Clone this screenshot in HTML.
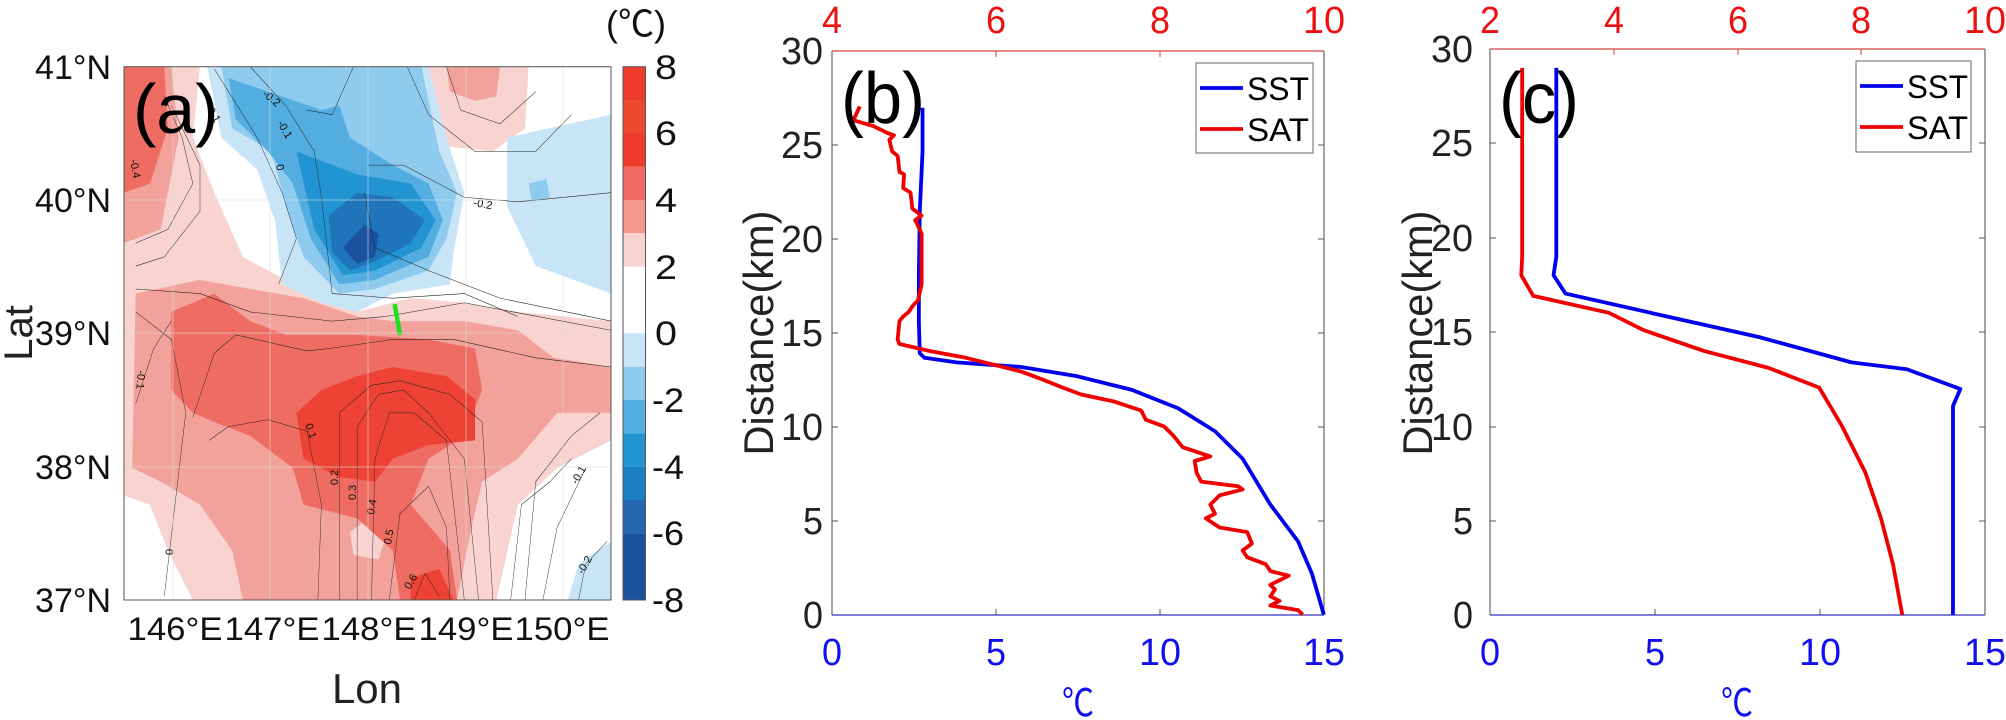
<!DOCTYPE html>
<html><head><meta charset="utf-8"><style>
html,body{margin:0;padding:0;background:#fff;}
svg{display:block;font-family:"Liberation Sans",Arial,sans-serif;}
</style></head><body>
<svg width="2006" height="720" viewBox="0 0 2006 720" xmlns="http://www.w3.org/2000/svg">
<defs><clipPath id="mc"><rect x="124" y="66.7" width="487" height="533.3"/></clipPath></defs>
<!-- ===== Panel a map ===== -->
<g clip-path="url(#mc)">
<rect x="124" y="66.7" width="487" height="533.3" fill="#fff"/>
<g transform="scale(0.35714,0.45872)">
<polygon fill="#f8d3cf" points="346,145 560,145 540,300 600,420 680,560 800,610 1000,680 1150,650 1300,660 1450,680 1711,700 1711,960 1560,1020 1450,1100 1390,1308 540,1308 470,1200 420,1100 346,1080"/>
<polygon fill="#f8d3cf" points="1180,145 1480,145 1470,280 1380,330 1260,320 1190,250"/>
<polygon fill="#f3a19b" points="1250,145 1400,145 1390,210 1330,220 1260,200"/>
<polygon fill="#f3a19b" points="346,145 480,145 500,300 450,500 346,530"/>
<polygon fill="#f3a19b" points="380,640 560,610 700,630 850,650 1000,690 1100,700 1300,700 1450,720 1550,780 1711,800 1711,900 1560,900 1450,1000 1350,1050 1320,1150 1280,1308 680,1308 650,1200 560,1100 450,1050 370,1020"/>
<polygon fill="#f8d3cf" points="980,1160 1030,1130 1080,1170 1060,1220 990,1210"/>
<polygon fill="#ef6c63" points="346,145 460,145 470,280 420,400 346,420"/>
<polygon fill="#ef6c63" points="480,680 600,640 700,700 800,730 1000,730 1200,740 1330,760 1350,850 1300,950 1200,1000 1150,1100 1260,1200 1280,1308 1120,1308 1100,1200 1000,1130 850,1100 820,1020 700,950 600,920 540,900 480,850"/>
<polygon fill="#ee4334" points="830,900 900,850 1000,820 1100,800 1250,820 1330,870 1330,960 1200,970 1100,1000 1050,1050 950,1040 850,1000"/>
<polygon fill="#ee4334" points="1150,1260 1230,1240 1270,1308 1150,1308"/>
<polygon fill="#c8e5f8" points="580,145 1200,145 1250,300 1300,420 1270,550 1260,620 1100,640 1000,680 900,660 790,620 770,480 720,370 620,300"/>
<polygon fill="#c8e5f8" points="1420,300 1711,250 1711,640 1500,580 1420,450"/>
<polygon fill="#c8e5f8" points="1620,1230 1711,1180 1711,1308 1590,1308"/>
<polygon fill="#8fcbee" points="620,145 1180,145 1230,330 1280,420 1250,520 1200,590 1050,630 950,640 850,560 800,450 760,330 650,280"/>
<polygon fill="#8fcbee" points="1480,400 1530,390 1540,430 1490,440"/>
<polygon fill="#53ade1" points="640,170 900,240 950,230 980,300 1100,360 1200,400 1240,480 1200,560 1050,610 950,620 870,520 820,400 750,330 660,260"/>
<polygon fill="#2294d2" points="830,330 1000,380 1150,400 1220,480 1180,540 1050,590 960,600 880,500"/>
<polygon fill="#1f74ba" points="920,470 1000,420 1100,430 1190,480 1150,530 1050,570 980,590 930,550"/>
<polygon fill="#1a52a0" points="960,540 1020,490 1060,510 1050,560 1000,575"/>
<g fill="none" stroke="#222" stroke-width="1.2" vector-effect="non-scaling-stroke">
<polyline points="380,630 560,640 700,680 930,700 1080,690 1300,660 1711,720"/>
<polyline points="380,680 480,740 520,900 460,1300"/>
<polyline points="380,880 430,760 480,700"/>
<polyline points="540,910 600,770 660,730 860,765 920,760 1100,740 1270,740 1500,780 1711,800"/>
<polyline points="585,960 640,930 750,915 860,940 900,1100 890,1308"/>
<polyline points="950,1308 950,900 1040,840 1120,830 1260,860 1350,920 1380,1308"/>
<polyline points="1000,1308 1000,930 1060,860 1130,850 1200,900 1300,1000 1340,1308"/>
<polyline points="1040,1308 1050,1000 1090,900 1160,900 1250,960 1300,1308"/>
<polyline points="1090,1308 1120,1120 1200,1060 1250,1150 1260,1308"/>
<polyline points="1160,1308 1190,1250 1230,1300"/>
<polyline points="780,620 830,520 790,420 720,300 600,150"/>
<polyline points="700,145 800,230 880,330 900,430 930,640 1100,650 1300,640 1450,690"/>
<polyline points="860,240 930,250 990,145"/>
<polyline points="1020,420 1050,540 1200,590 1400,650 1711,700"/>
<polyline points="1030,360 1130,360 1300,430 1450,440 1711,420"/>
<polyline points="1140,145 1200,250 1330,330 1500,330 1600,250"/>
<polyline points="1250,145 1290,240 1400,270 1500,200"/>
<polyline points="380,530 470,500 540,400 510,300 460,210"/>
<polyline points="380,580 460,560 560,460 560,360 480,230"/>
<polyline points="1430,1308 1460,1100 1540,1050 1600,1000"/>
<polyline points="1470,1308 1500,1050 1600,950 1680,900"/>
<polyline points="1520,1308 1560,1150 1640,1020"/>
<polyline points="1620,1308 1640,1230 1700,1180"/>
</g>
<line x1="1105" y1="663" x2="1120" y2="730" stroke="#1ee01e" stroke-width="4.5" vector-effect="non-scaling-stroke"/>
</g>
</g>
<g font-size="11" fill="#111">
<text x="207" y="110" transform="rotate(60 207 110)">0.1</text>
<text x="262" y="95" transform="rotate(40 262 95)">-0.2</text>
<text x="277" y="123" transform="rotate(60 277 123)">-0.1</text>
<text x="276" y="165" transform="rotate(80 276 165)">0</text>
<text x="473" y="206" transform="rotate(10 473 206)">-0.2</text>
<text x="130" y="160" transform="rotate(80 130 160)">-0.4</text>
<text x="138" y="370" transform="rotate(95 138 370)">-0.1</text>
<text x="305" y="425" transform="rotate(70 305 425)">0.1</text>
<text x="338" y="485" transform="rotate(-90 338 485)">0.2</text>
<text x="356" y="500" transform="rotate(-90 356 500)">0.3</text>
<text x="374" y="515" transform="rotate(-80 374 515)">0.4</text>
<text x="391" y="545" transform="rotate(-80 391 545)">0.5</text>
<text x="410" y="590" transform="rotate(-60 410 590)">0.6</text>
<text x="173" y="555" transform="rotate(-90 173 555)">0</text>
<text x="577" y="485" transform="rotate(-60 577 485)">-0.1</text>
<text x="583" y="575" transform="rotate(-60 583 575)">-0.2</text>
</g>
<g stroke="#ddd" stroke-width="1" opacity="0.6">
<line x1="173" y1="67" x2="173" y2="600"/><line x1="270" y1="67" x2="270" y2="600"/><line x1="368" y1="67" x2="368" y2="600"/><line x1="466" y1="67" x2="466" y2="600"/><line x1="563" y1="67" x2="563" y2="600"/>
<line x1="124" y1="200" x2="611" y2="200"/><line x1="124" y1="333" x2="611" y2="333"/><line x1="124" y1="467" x2="611" y2="467"/>
</g>
<rect x="124" y="66.7" width="487" height="533.3" fill="none" stroke="#555" stroke-width="1"/>
<text x="133" y="133" font-size="70">(a)</text>
<g font-size="34" text-anchor="end" fill="#111">
<text x="111" y="79">41°N</text><text x="111" y="212">40°N</text><text x="111" y="345">39°N</text><text x="111" y="479">38°N</text><text x="111" y="612">37°N</text>
</g>
<g font-size="32" text-anchor="middle" fill="#111">
<text x="175" y="640" textLength="95" lengthAdjust="spacingAndGlyphs">146°E</text>
<text x="272" y="640" textLength="95" lengthAdjust="spacingAndGlyphs">147°E</text>
<text x="369" y="640" textLength="95" lengthAdjust="spacingAndGlyphs">148°E</text>
<text x="466" y="640" textLength="95" lengthAdjust="spacingAndGlyphs">149°E</text>
<text x="562" y="640" textLength="95" lengthAdjust="spacingAndGlyphs">150°E</text>
</g>
<text x="367" y="703" font-size="42" text-anchor="middle" fill="#222">Lon</text>
<text transform="translate(32,333) rotate(-90)" font-size="40" text-anchor="middle" fill="#222">Lat</text>
<!-- colorbar -->
<g>
<rect x="623" y="66.7" width="22.5" height="66.7" fill="#ee3b2c"/>
<rect x="623" y="100" width="22.5" height="33.3" fill="#ec4a2d"/>
<rect x="623" y="133.3" width="22.5" height="33.4" fill="#ee3b2c"/>
<rect x="623" y="166.7" width="22.5" height="33.3" fill="#ef6a60"/>
<rect x="623" y="200" width="22.5" height="33.3" fill="#f3978f"/>
<rect x="623" y="233.3" width="22.5" height="33.4" fill="#f8d3cf"/>
<rect x="623" y="266.7" width="22.5" height="66.6" fill="#ffffff"/>
<rect x="623" y="333.3" width="22.5" height="33.4" fill="#c8e5f8"/>
<rect x="623" y="366.7" width="22.5" height="33.3" fill="#8fcbee"/>
<rect x="623" y="400" width="22.5" height="33.3" fill="#53ade1"/>
<rect x="623" y="433.3" width="22.5" height="33.4" fill="#2294d2"/>
<rect x="623" y="466.7" width="22.5" height="33.3" fill="#1a7fc3"/>
<rect x="623" y="500" width="22.5" height="33.3" fill="#2367b0"/>
<rect x="623" y="533.3" width="22.5" height="66.7" fill="#1a52a0"/>
<rect x="623" y="66.7" width="22.5" height="533.3" fill="none" stroke="#555" stroke-width="1"/>
</g>
<g font-size="34" fill="#111">
<text x="655" y="79" textLength="22" lengthAdjust="spacingAndGlyphs">8</text>
<text x="655" y="145" textLength="22" lengthAdjust="spacingAndGlyphs">6</text>
<text x="655" y="212" textLength="22" lengthAdjust="spacingAndGlyphs">4</text>
<text x="655" y="279" textLength="22" lengthAdjust="spacingAndGlyphs">2</text>
<text x="655" y="345" textLength="22" lengthAdjust="spacingAndGlyphs">0</text>
<text x="652" y="412" textLength="32" lengthAdjust="spacingAndGlyphs">-2</text>
<text x="652" y="479" textLength="32" lengthAdjust="spacingAndGlyphs">-4</text>
<text x="652" y="545" textLength="32" lengthAdjust="spacingAndGlyphs">-6</text>
<text x="652" y="612" textLength="32" lengthAdjust="spacingAndGlyphs">-8</text>
</g>
<text x="606" y="36" font-size="36" fill="#111" textLength="60" lengthAdjust="spacingAndGlyphs" font-family="'Liberation Sans','Noto Sans CJK SC',sans-serif">(℃)</text>

<!-- ===== Panel b ===== -->
<g>
<line x1="832" y1="51" x2="1324" y2="51" stroke="#d04040" stroke-width="1.2"/>
<line x1="832" y1="615" x2="1324" y2="615" stroke="#3030c0" stroke-width="1.2"/>
<line x1="832" y1="51" x2="832" y2="615" stroke="#666" stroke-width="1.2"/>
<line x1="1324" y1="51" x2="1324" y2="615" stroke="#666" stroke-width="1.2"/>
<g stroke="#555" stroke-width="1">
<line x1="832" y1="521" x2="838" y2="521"/><line x1="832" y1="427" x2="838" y2="427"/><line x1="832" y1="333" x2="838" y2="333"/><line x1="832" y1="239" x2="838" y2="239"/><line x1="832" y1="145" x2="838" y2="145"/>
<line x1="1318" y1="521" x2="1324" y2="521"/><line x1="1318" y1="427" x2="1324" y2="427"/><line x1="1318" y1="333" x2="1324" y2="333"/><line x1="1318" y1="239" x2="1324" y2="239"/><line x1="1318" y1="145" x2="1324" y2="145"/>
<line x1="996" y1="615" x2="996" y2="609"/><line x1="1160" y1="615" x2="1160" y2="609"/>
<line x1="996" y1="51" x2="996" y2="57" stroke="#c04040"/><line x1="1160" y1="51" x2="1160" y2="57" stroke="#c04040"/>
</g>
<g transform="translate(560,0) scale(0.9225,0.4587)" fill="none" stroke-linejoin="round">
<polyline stroke="#0000ee" stroke-width="3.8" vector-effect="non-scaling-stroke" points="393,235 393,330 390,460 389,600 389,700 390,770 395,780 430,790 500,800 560,820 620,850 670,890 710,940 740,1000 770,1100 800,1180 815,1250 828,1340"/>
<polyline stroke="#ee0000" stroke-width="3.8" vector-effect="non-scaling-stroke" points="325,232 318,262 340,275 355,290 362,295 357,305 360,330 366,340 368,375 373,380 372,410 380,420 382,455 392,470 385,480 390,500 392,510 392,620 388,655 383,665 378,680 372,690 368,700 366,740 368,750 400,765 440,780 470,795 500,810 520,825 545,845 565,860 600,875 630,895 635,915 655,930 665,950 675,975 690,985 705,995 688,1005 690,1030 695,1050 735,1060 740,1067 715,1080 705,1100 710,1120 700,1130 715,1150 745,1160 750,1185 740,1200 745,1215 765,1230 770,1245 790,1255 770,1275 775,1285 770,1300 780,1310 770,1320 800,1330 805,1340"/>
</g>
<text x="841" y="123" font-size="72" textLength="84" lengthAdjust="spacingAndGlyphs">(b)</text>
<rect x="1196" y="63" width="117" height="90" fill="#fff" stroke="#666" stroke-width="1"/>
<line x1="1200" y1="88" x2="1243" y2="88" stroke="#0000ee" stroke-width="3.8"/>
<line x1="1200" y1="129" x2="1243" y2="129" stroke="#ee0000" stroke-width="3.8"/>
<text x="1247" y="100" font-size="32" textLength="62" lengthAdjust="spacingAndGlyphs">SST</text>
<text x="1247" y="141" font-size="32" textLength="62" lengthAdjust="spacingAndGlyphs">SAT</text>
<g font-size="38" text-anchor="end" fill="#222">
<text x="823" y="628" textLength="20" lengthAdjust="spacingAndGlyphs">0</text>
<text x="823" y="534" textLength="20" lengthAdjust="spacingAndGlyphs">5</text>
<text x="823" y="440" textLength="42" lengthAdjust="spacingAndGlyphs">10</text>
<text x="823" y="346" textLength="42" lengthAdjust="spacingAndGlyphs">15</text>
<text x="823" y="252" textLength="42" lengthAdjust="spacingAndGlyphs">20</text>
<text x="823" y="158" textLength="42" lengthAdjust="spacingAndGlyphs">25</text>
<text x="823" y="64" textLength="42" lengthAdjust="spacingAndGlyphs">30</text>
</g>
<g font-size="38" text-anchor="middle" fill="#1010ee">
<text x="832" y="665" textLength="20" lengthAdjust="spacingAndGlyphs">0</text>
<text x="996" y="665" textLength="20" lengthAdjust="spacingAndGlyphs">5</text>
<text x="1160" y="665" textLength="42" lengthAdjust="spacingAndGlyphs">10</text>
<text x="1324" y="665" textLength="42" lengthAdjust="spacingAndGlyphs">15</text>
</g>
<g font-size="38" text-anchor="middle" fill="#ee1010">
<text x="832" y="33" textLength="20" lengthAdjust="spacingAndGlyphs">4</text>
<text x="996" y="33" textLength="20" lengthAdjust="spacingAndGlyphs">6</text>
<text x="1160" y="33" textLength="20" lengthAdjust="spacingAndGlyphs">8</text>
<text x="1324" y="33" textLength="42" lengthAdjust="spacingAndGlyphs">10</text>
</g>
<text x="1078" y="716" font-size="38" text-anchor="middle" fill="#1010ee" textLength="32" lengthAdjust="spacingAndGlyphs" font-family="'Liberation Sans','Noto Sans CJK SC',sans-serif">℃</text>
<text transform="translate(773,333) rotate(-90)" font-size="42" text-anchor="middle" fill="#222" textLength="245" lengthAdjust="spacingAndGlyphs">Distance(km)</text>
</g>

<!-- ===== Panel c ===== -->
<g>
<line x1="1490" y1="49" x2="1985" y2="49" stroke="#d04040" stroke-width="1.2"/>
<line x1="1490" y1="615" x2="1985" y2="615" stroke="#3030c0" stroke-width="1.2"/>
<line x1="1490" y1="49" x2="1490" y2="615" stroke="#666" stroke-width="1.2"/>
<line x1="1985" y1="49" x2="1985" y2="615" stroke="#666" stroke-width="1.2"/>
<g stroke="#555" stroke-width="1">
<line x1="1490" y1="521" x2="1496" y2="521"/><line x1="1490" y1="427" x2="1496" y2="427"/><line x1="1490" y1="332" x2="1496" y2="332"/><line x1="1490" y1="238" x2="1496" y2="238"/><line x1="1490" y1="143" x2="1496" y2="143"/>
<line x1="1979" y1="521" x2="1985" y2="521"/><line x1="1979" y1="427" x2="1985" y2="427"/><line x1="1979" y1="332" x2="1985" y2="332"/><line x1="1979" y1="238" x2="1985" y2="238"/><line x1="1979" y1="143" x2="1985" y2="143"/>
<line x1="1655" y1="615" x2="1655" y2="609"/><line x1="1820" y1="615" x2="1820" y2="609"/>
<line x1="1614" y1="49" x2="1614" y2="55" stroke="#c04040"/><line x1="1738" y1="49" x2="1738" y2="55" stroke="#c04040"/><line x1="1861" y1="49" x2="1861" y2="55" stroke="#c04040"/>
</g>
<g transform="translate(560,0) scale(0.9225,0.4587)" fill="none" stroke-linejoin="round">
<polyline stroke="#0000ee" stroke-width="3.8" vector-effect="non-scaling-stroke" points="1080,148 1080,560 1077,600 1090,640 1200,690 1300,735 1400,790 1460,805 1518,848 1510,885 1510,1340"/>
<polyline stroke="#ee0000" stroke-width="3.8" vector-effect="non-scaling-stroke" points="1043,148 1043,560 1042,600 1055,645 1137,682 1175,720 1240,765 1310,802 1365,845 1390,930 1415,1030 1432,1130 1445,1230 1455,1340"/>
</g>
<text x="1499" y="123" font-size="72" textLength="80" lengthAdjust="spacingAndGlyphs">(c)</text>
<rect x="1856" y="61" width="115" height="91" fill="#fff" stroke="#666" stroke-width="1"/>
<line x1="1860" y1="86" x2="1903" y2="86" stroke="#0000ee" stroke-width="3.8"/>
<line x1="1860" y1="127" x2="1903" y2="127" stroke="#ee0000" stroke-width="3.8"/>
<text x="1907" y="98" font-size="32" textLength="61" lengthAdjust="spacingAndGlyphs">SST</text>
<text x="1907" y="139" font-size="32" textLength="61" lengthAdjust="spacingAndGlyphs">SAT</text>
<g font-size="38" text-anchor="end" fill="#222">
<text x="1473" y="628" textLength="20" lengthAdjust="spacingAndGlyphs">0</text>
<text x="1473" y="534" textLength="20" lengthAdjust="spacingAndGlyphs">5</text>
<text x="1473" y="440" textLength="42" lengthAdjust="spacingAndGlyphs">10</text>
<text x="1473" y="345" textLength="42" lengthAdjust="spacingAndGlyphs">15</text>
<text x="1473" y="251" textLength="42" lengthAdjust="spacingAndGlyphs">20</text>
<text x="1473" y="156" textLength="42" lengthAdjust="spacingAndGlyphs">25</text>
<text x="1473" y="62" textLength="42" lengthAdjust="spacingAndGlyphs">30</text>
</g>
<g font-size="38" text-anchor="middle" fill="#1010ee">
<text x="1490" y="665" textLength="20" lengthAdjust="spacingAndGlyphs">0</text>
<text x="1655" y="665" textLength="20" lengthAdjust="spacingAndGlyphs">5</text>
<text x="1820" y="665" textLength="42" lengthAdjust="spacingAndGlyphs">10</text>
<text x="1985" y="665" textLength="42" lengthAdjust="spacingAndGlyphs">15</text>
</g>
<g font-size="38" text-anchor="middle" fill="#ee1010">
<text x="1490" y="33" textLength="20" lengthAdjust="spacingAndGlyphs">2</text>
<text x="1614" y="33" textLength="20" lengthAdjust="spacingAndGlyphs">4</text>
<text x="1738" y="33" textLength="20" lengthAdjust="spacingAndGlyphs">6</text>
<text x="1861" y="33" textLength="20" lengthAdjust="spacingAndGlyphs">8</text>
<text x="1985" y="33" textLength="42" lengthAdjust="spacingAndGlyphs">10</text>
</g>
<text x="1737" y="716" font-size="38" text-anchor="middle" fill="#1010ee" textLength="32" lengthAdjust="spacingAndGlyphs" font-family="'Liberation Sans','Noto Sans CJK SC',sans-serif">℃</text>
<text transform="translate(1432,333) rotate(-90)" font-size="42" text-anchor="middle" fill="#222" textLength="245" lengthAdjust="spacingAndGlyphs">Distance(km)</text>
</g>
</svg>
</body></html>
